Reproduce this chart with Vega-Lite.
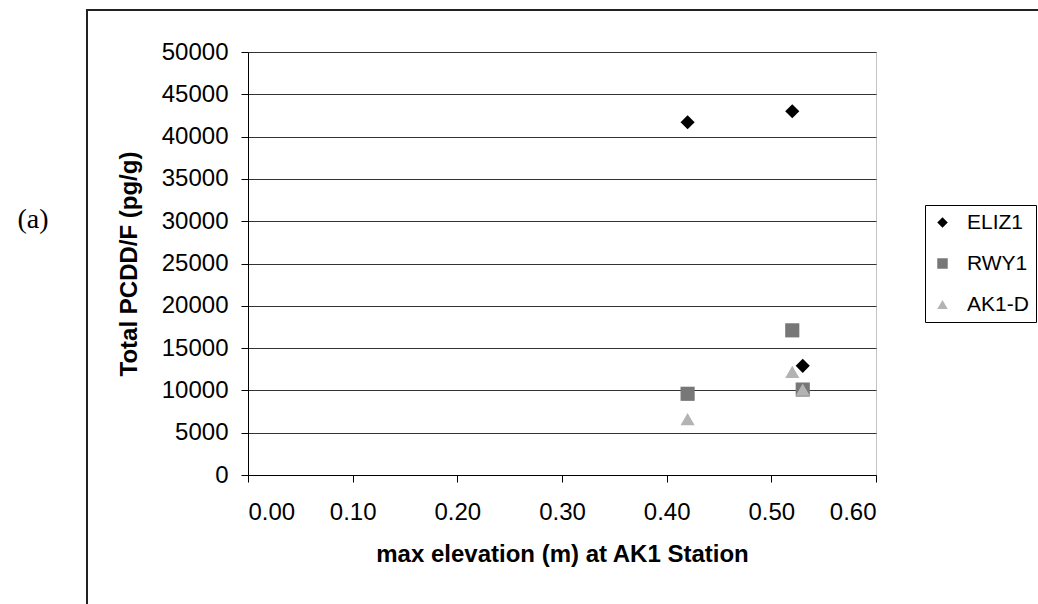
{
  "$schema": "https://vega.github.io/schema/vega-lite/v6.json",
  "width": 628,
  "height": 423,
  "autosize": {"type": "none"},
  "padding": {"left": 248, "top": 52, "right": 162, "bottom": 129},
  "background": "white",
  "title": {
    "text": "(a)",
    "orient": "left",
    "angle": 0,
    "anchor": "middle",
    "font": "Liberation Serif",
    "fontSize": 28,
    "fontWeight": "normal",
    "color": "black",
    "offset": 22,
    "dy": -58
  },
  "config": {
    "view": {"stroke": "#888", "strokeDash": [1, 1]},
    "font": "Liberation Sans",
    "axis": {
      "labelFont": "Liberation Sans",
      "labelFontSize": 24,
      "labelColor": "black",
      "titleFont": "Liberation Sans",
      "titleFontSize": 24,
      "titleFontWeight": "bold",
      "titleColor": "black",
      "domainColor": "black",
      "tickColor": "black",
      "tickSize": 7
    },
    "legend": {
      "labelFont": "Liberation Sans",
      "labelFontSize": 21,
      "labelColor": "black"
    }
  },
  "data": {
    "values": [
      {"station": "RWY1", "elev": 0.42, "pcdd": 9600},
      {"station": "RWY1", "elev": 0.52, "pcdd": 17100},
      {"station": "RWY1", "elev": 0.53, "pcdd": 10100},
      {"station": "AK1-D", "elev": 0.42, "pcdd": 6600},
      {"station": "AK1-D", "elev": 0.52, "pcdd": 12200},
      {"station": "AK1-D", "elev": 0.53, "pcdd": 10100},
      {"station": "ELIZ1", "elev": 0.42, "pcdd": 41700},
      {"station": "ELIZ1", "elev": 0.52, "pcdd": 43000},
      {"station": "ELIZ1", "elev": 0.53, "pcdd": 12900}
    ]
  },
  "layer": [
    {
      "mark": {"type": "rect", "fill": null, "stroke": "#222", "strokeWidth": 1.5, "clip": false},
      "encoding": {
        "x": {"datum": -0.154, "type": "quantitative", "scale": {"domain": [0, 0.6], "nice": false, "zero": false}},
        "x2": {"datum": 0.8},
        "y": {"datum": 55000, "type": "quantitative", "scale": {"domain": [0, 50000], "nice": false}},
        "y2": {"datum": -20000}
      }
    },
    {
      "mark": {"type": "point", "filled": true, "opacity": 1, "size": 200},
      "encoding": {
        "x": {
          "field": "elev",
          "type": "quantitative",
          "scale": {"domain": [0, 0.6], "nice": false, "zero": false},
          "axis": {
            "title": "max elevation (m) at AK1 Station",
            "values": [0, 0.1, 0.2, 0.3, 0.4, 0.5, 0.6],
            "format": ".2f",
            "grid": false,
            "labelPadding": 18,
            "titlePadding": 18
          }
        },
        "y": {
          "field": "pcdd",
          "type": "quantitative",
          "scale": {"domain": [0, 50000], "nice": false},
          "axis": {
            "title": "Total PCDD/F (pg/g)",
            "values": [0, 5000, 10000, 15000, 20000, 25000, 30000, 35000, 40000, 45000, 50000],
            "format": "d",
            "grid": true,
            "gridColor": "#333",
            "gridWidth": 1,
            "labelPadding": 13,
            "titlePadding": 20
          }
        },
        "color": {
          "field": "station",
          "type": "nominal",
          "scale": {"domain": ["ELIZ1", "RWY1", "AK1-D"], "range": ["#000000", "#777777", "#b3b3b3"]},
          "legend": {
            "title": null,
            "orient": "none",
            "legendX": 677,
            "legendY": 153,
            "strokeColor": "black",
            "fillColor": "white",
            "padding": 7,
            "rowPadding": 19,
            "symbolSize": 110,
            "symbolOffset": 0,
            "labelOffset": 14
          }
        },
        "shape": {
          "field": "station",
          "type": "nominal",
          "scale": {"domain": ["ELIZ1", "RWY1", "AK1-D"], "range": ["diamond", "square", "triangle-up"]}
        }
      }
    }
  ]
}
